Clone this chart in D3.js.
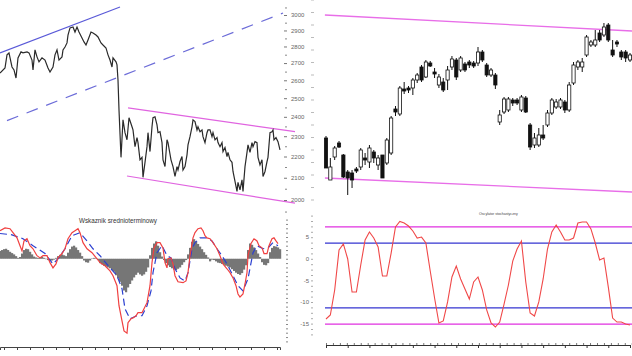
<!DOCTYPE html>
<html><head><meta charset="utf-8">
<script src="https://cdn.jsdelivr.net/npm/d3@7"></script>
<style>body{margin:0;background:#fff;overflow:hidden}svg{display:block}text{font-family:"Liberation Sans",Arial,sans-serif}</style>
</head><body>
<svg id="c" width="632" height="356"></svg>
<script>
// ---------- LEFT PANEL: daily closes (day index, close) ----------
const priceDay = [0,5,7,9,12,14,16,18,21,23,27,29,32,33,35,37,39,42,45,48,50,53,55,57,59,62,63,65,67,68,70,73,75,77,79,82,84,86,88,91,93,96,98,101,103,106,108,110,112,113,116,117,118,119,121,123,125,127,129,132,133,135,137,138,140,142,143,145,147,148,150,152,153,155,157,158,160,162,163,165,167,168,171,173,175,177,178,180,182,183,185,187,188,190,192,193,195,197,198,200,202,203,205,207,208,210,212,213,215,217,218,220,222,223,225,227,228,230,232,233,235,237,238,240,242,243,245,247,248,250,252,253,255,257,258,260,262,263,265,267,268,270,272,273,274,276,278,280];
const priceClose = [2642,2671,2749,2761,2677,2660,2613,2731,2767,2761,2767,2761,2718,2660,2779,2737,2707,2731,2718,2671,2648,2677,2749,2779,2718,2737,2779,2797,2822,2871,2916,2922,2890,2922,2890,2853,2828,2809,2840,2890,2884,2871,2859,2822,2809,2791,2749,2718,2677,2731,2707,2689,2602,2436,2196,2384,2318,2282,2395,2348,2332,2248,2293,2268,2184,2196,2102,2172,2248,2318,2224,2348,2395,2400,2358,2318,2323,2268,2184,2152,2282,2268,2184,2152,2106,2152,2136,2176,2200,2136,2152,2208,2257,2298,2348,2384,2375,2332,2348,2323,2332,2298,2268,2318,2332,2332,2298,2318,2282,2293,2268,2248,2268,2224,2244,2200,2220,2184,2172,2129,2083,2038,2079,2045,2090,2038,2152,2220,2257,2220,2268,2248,2273,2268,2196,2160,2184,2106,2129,2176,2196,2318,2323,2332,2282,2293,2273,2232];
const priceTicks = [2000,2100,2200,2300,2400,2500,2600,2700,2800,2900,3000];
const trendSolid = [[0,2761],[120,3053]];
const trendDashed = [[7,2380],[283,3013]];
const channelUpperL = [[128,2447],[295,2323]];
const channelLowerL = [[127,2108],[295,1986]];

// MACD ("Wskaznik srednioterminowy")
const macdDay = [0,5,10,13,17,20,22,24,27,30,33,37,40,43,47,50,53,56,58,62,65,68,72,75,78,80,83,87,92,97,100,105,110,113,117,119,122,124,127,128,131,133,136,138,142,144,147,150,152,154,157,160,163,165,167,168,171,173,175,178,183,186,188,190,193,195,198,201,203,205,207,210,213,217,220,223,227,230,233,236,238,240,243,245,247,248,251,254,257,259,262,264,267,269,272,274,276,278];
const macdLine = [6.45,7.1,6.9,6.0,4.8,3.0,1.8,4.1,4.6,3.0,2.3,0.7,0.2,0.7,0.7,-0.9,-2.1,-1.2,0.2,1.2,2.3,4.6,6.0,6.45,6.9,6.0,3.7,2.3,1.4,0,-0.9,-1.6,-2.8,-3.9,-6.2,-10.8,-14.3,-16.6,-17.1,-14.7,-13.8,-13.6,-13.1,-12.4,-12.4,-11.5,-10.1,-6.2,-0.9,2.5,3.7,3.7,2.5,-0.9,-2.1,0,0.2,-1.2,-3.9,-5.3,-5.5,-5.1,-3.2,0.7,4.8,6.0,6.9,7.1,6.45,5.3,4.8,4.6,3.7,2.3,0.7,-1.2,-2.3,-3.2,-4.4,-6.2,-8.1,-8.8,-8.1,-5.8,-3.2,0.7,3.5,4.6,4.1,3.0,2.5,1.2,1.2,3.0,4.6,4.8,4.1,3.5];
const signalDay = [0,12,23,33,45,53,58,65,72,80,87,93,100,110,117,122,125,130,137,142,147,151,153,157,162,167,171,175,180,185,188,192,195,200,207,212,217,222,228,233,238,243,248,253,257,263,268,273,278];
const signalLine = [5.8,5.5,4.6,3.0,1.2,-1.2,0,2.3,5.3,6.0,4.1,2.3,0.7,-2.1,-3.9,-6.9,-11.5,-13.8,-13.1,-13.1,-10.8,-7.4,-3.2,1.4,3.0,0.7,0.2,-2.3,-4.4,-5.1,-3.2,2.3,3.7,4.8,4.8,4.1,2.3,0.7,-1.6,-3.9,-6.2,-7.4,-4.6,1.4,3.0,2.3,2.5,3.7,3.0];
const histDay = d3.range(0, 281, 2);
const histValue = [1.8,2.0,2.2,2.3,2.0,1.6,1.3,1.0,0.6,0.2,0.4,1.2,2.0,2.3,2.2,1.6,1.0,0.5,0.3,0.2,0.3,0.4,0.2,-0.1,-0.3,-0.5,-0.4,-0.2,0.2,0.6,0.9,1.0,0.8,0.6,1.4,2.2,2.8,3.0,2.6,2.0,1.4,0.6,-0.4,-0.8,-0.9,-0.4,0.1,0.2,0.1,-0.3,-1.0,-1.3,-1.6,-1.8,-2.0,-2.2,-2.6,-3.0,-3.8,-4.5,-5.3,-6.2,-7.3,-7.7,-6.6,-5.8,-5.0,-4.3,-3.7,-3.2,-3.6,-3.9,-3.6,-3.0,-2.0,0.8,2.5,3.5,4.0,3.0,1.5,0.5,-0.3,-1.0,-1.5,-1.9,-2.2,-2.5,-2.6,-2.3,-2.0,-1.4,-0.8,-0.3,1.0,2.5,3.9,4.5,4.0,3.4,2.8,2.2,1.5,0.9,0.3,-0.6,-0.2,-0.3,-0.6,-0.9,-1.0,-1.2,-1.4,-1.6,-1.8,-2.0,-2.4,-2.8,-3.2,-3.5,-3.7,-3.3,-2.5,-1.5,2.0,3.5,3.2,2.6,2.0,1.2,0.4,-0.8,-1.4,-1.5,-1.0,1.5,2.5,2.9,2.8,2.6,2.2];
const macdTicks = [5,0,-5,-10,-15];
const macdTitle = "Wskaznik srednioterminowy";

// ---------- RIGHT PANEL: candles ----------
const cOpen  = [2124,2040,2086,2114,2090,2056,2054,2062,2066,2084,2076,2096,2070,2090,2074,2094,2182,2172,2222,2224,2224,2240,2266,2246,2274,2256,2230,2236,2240,2266,2280,2260,2272,2276,2274,2274,2296,2270,2250,2250,2156,2176,2180,2200,2200,2180,2204,2150,2110,2110,2130,2150,2174,2186,2186,2196,2180,2234,2266,2266,2290,2310,2310,2334,2330,2350,2300,2316,2296,2296,2280];
const cHigh  = [2128,2084,2108,2118,2092,2060,2060,2066,2104,2094,2110,2100,2090,2090,2124,2168,2188,2228,2236,2228,2244,2254,2270,2280,2278,2264,2252,2244,2268,2288,2284,2288,2276,2280,2278,2306,2300,2274,2264,2254,2180,2206,2206,2204,2204,2210,2208,2154,2134,2144,2150,2180,2204,2202,2204,2200,2236,2276,2280,2284,2330,2320,2340,2340,2354,2354,2320,2320,2300,2300,2294];
const cLow   = [2064,2040,2080,2104,2044,2010,2024,2054,2060,2070,2064,2074,2060,2044,2070,2090,2168,2168,2212,2214,2210,2234,2236,2244,2266,2244,2224,2216,2220,2260,2240,2256,2256,2264,2264,2268,2276,2246,2246,2222,2150,2172,2176,2188,2190,2176,2174,2100,2104,2106,2120,2146,2170,2182,2182,2174,2176,2230,2260,2256,2286,2306,2306,2316,2326,2316,2286,2306,2280,2276,2276];
const cClose = [2064,2066,2104,2106,2046,2044,2040,2058,2100,2080,2104,2084,2084,2044,2120,2164,2176,2224,2218,2220,2240,2250,2240,2276,2268,2252,2246,2220,2260,2282,2246,2284,2260,2270,2268,2296,2280,2250,2260,2230,2170,2202,2202,2194,2194,2206,2176,2106,2124,2130,2124,2174,2200,2196,2200,2180,2230,2270,2276,2276,2326,2316,2320,2320,2346,2320,2290,2312,2286,2284,2290];
const channelUpperR = [[-0.25,2370],[70.5,2338]];
const channelLowerR = [[-0.25,2044],[70.5,2016]];

// oscillator (one value per candle)
const oscValue = [9.7,13.4,36.6,73.6,79.2,65.3,34.7,34.7,59.7,82.9,90.3,84.7,76.4,49.5,49.5,70.8,94.9,100,98.6,95.8,91.2,84.7,85.6,80.1,54.2,29.2,6.0,7.9,25.5,48.6,58.8,46.8,37.5,28.2,44.0,48.6,36.6,18.1,6.0,2.3,6.9,23.6,41.2,63.4,74.5,81.9,44.0,15.3,12.5,25.5,46.8,74.5,90.3,96.8,90.3,82.9,82.9,84.7,98.6,99.5,99.5,93.1,80.1,64.4,66.2,39.4,10.6,6.9,6.9,5.1,4.2];
const oscOuter = [95,5];
const oscInner = [80,20];
const oscTitle = "Oscylator stochastyczny";

// ---------- drawing ----------
const svg = d3.select("#c");
const xL = d3.scaleLinear().domain([0,280]).range([0,280]);
const yP = d3.scaleLog().domain([2000,3000]).range([200,15]);
const yM = d3.scaleLinear().domain([-15,5]).range([324,237]);
const xR = d3.scaleLinear().domain([0,70]).range([326,630]);
const yC = d3.scaleLinear().domain([2000,2400]).range([200,0]);
const yO = d3.scaleLinear().domain([0,100]).range([329.5,221.5]);

const seg = (g, pts, xs, ys, color, w, dash) => g.append("line")
  .attr("x1", xs(pts[0][0])).attr("y1", ys(pts[0][1]))
  .attr("x2", xs(pts[1][0])).attr("y2", ys(pts[1][1]))
  .attr("stroke", color).attr("stroke-width", w).attr("stroke-dasharray", dash || null);

// left price
const gL = svg.append("g");
seg(gL, trendSolid, xL, yP, "#5a5ad8", 1.2);
seg(gL, trendDashed, xL, yP, "#6c6cd8", 1.2, "12,9");
seg(gL, channelUpperL, xL, yP, "#e064e0", 1.2);
seg(gL, channelLowerL, xL, yP, "#e064e0", 1.2);
gL.append("path").datum(priceDay.map((d,i)=>[d,priceClose[i]]))
  .attr("fill","none").attr("stroke","#2a2a2a").attr("stroke-width",1.2)
  .attr("d", d3.line().x(d=>xL(d[0])).y(d=>yP(d[1])));

// price axis
const ax1 = svg.append("g").attr("transform","translate(284,0)")
  .call(d3.axisRight(yP).tickValues(priceTicks).tickSize(3).tickPadding(4).tickFormat(d3.format("d")));
ax1.select(".domain").remove();
ax1.selectAll("line").attr("stroke","#777");
ax1.selectAll("text").attr("font-size",6).attr("fill","#666");
const ax1m = svg.append("g").attr("transform","translate(285,0)")
  .call(d3.axisRight(yP).tickValues(d3.range(1950,3100,100)).tickSize(2).tickFormat(""));
ax1m.select(".domain").remove();
ax1m.selectAll("line").attr("stroke","#888");

// MACD
const gM = svg.append("g");
gM.selectAll("rect").data(histDay).join("rect")
  .attr("x", d=>xL(d)-1).attr("width", 2.2)
  .attr("y", (d,i)=>Math.min(yM(0), yM(histValue[i])))
  .attr("height", (d,i)=>Math.abs(yM(histValue[i])-yM(0)))
  .attr("fill","#767676");
gM.append("path").datum(signalDay.map((d,i)=>[d,signalLine[i]]))
  .attr("fill","none").attr("stroke","#2b3fd0").attr("stroke-width",1.2).attr("stroke-dasharray","7,4")
  .attr("d", d3.line().x(d=>xL(d[0])).y(d=>yM(d[1])));
gM.append("path").datum(macdDay.map((d,i)=>[d,macdLine[i]]))
  .attr("fill","none").attr("stroke","#f04040").attr("stroke-width",1.2)
  .attr("d", d3.line().x(d=>xL(d[0])).y(d=>yM(d[1])));
svg.append("text").attr("x",118).attr("y",223).attr("text-anchor","middle")
  .attr("font-size",6.3).attr("fill","#333").text(macdTitle);

const ax2 = svg.append("g").attr("transform","translate(286,0)")
  .call(d3.axisRight(yM).tickValues(d3.range(-19,10)).tickSize(2).tickFormat(""));
ax2.select(".domain").remove();
ax2.selectAll("line").attr("stroke","#888");
svg.append("g").selectAll("text").data(macdTicks).join("text")
  .attr("x",309).attr("y",d=>yM(d)+2).attr("text-anchor","end")
  .attr("font-size",6).attr("fill","#666").text(d=>d);

// left bottom time axis
const ax3 = svg.append("g").attr("transform","translate(0,347)")
  .call(d3.axisBottom(xL).tickValues(d3.range(4,281,13)).tickSize(3).tickFormat(""));
ax3.select(".domain").attr("stroke","#444");
ax3.selectAll("line").attr("stroke","#444");

// right panel: faint left axis ticks
svg.append("g").selectAll("line").data(d3.range(2000,2401,25)).join("line")
  .attr("x1",311).attr("x2",314).attr("y1",d=>yC(d)).attr("y2",d=>yC(d))
  .attr("stroke","#bbb");
svg.append("g").selectAll("line").data(d3.range(-5,106,5)).join("line")
  .attr("x1",311).attr("x2",313).attr("y1",d=>yO(d)).attr("y2",d=>yO(d))
  .attr("stroke","#aaa");

// channel lines
const gR = svg.append("g");
seg(gR, channelUpperR, xR, yC, "#e86ee8", 1.3);
seg(gR, channelLowerR, xR, yC, "#e86ee8", 1.3);

// candles
const idx = d3.range(cOpen.length);
const bw = 3.2;
gR.selectAll(".wick").data(idx).join("line").attr("class","wick")
  .attr("x1",i=>xR(i)).attr("x2",i=>xR(i))
  .attr("y1",i=>yC(cHigh[i])).attr("y2",i=>yC(cLow[i]))
  .attr("stroke","#111").attr("stroke-width",1);
gR.selectAll(".body").data(idx).join("rect").attr("class","body")
  .attr("x",i=>xR(i)-bw/2).attr("width",bw)
  .attr("y",i=>yC(Math.max(cOpen[i],cClose[i])))
  .attr("height",i=>Math.max(1,Math.abs(yC(cOpen[i])-yC(cClose[i]))))
  .attr("fill",i=>cClose[i]>=cOpen[i]?"#fff":"#111")
  .attr("stroke","#111").attr("stroke-width",0.8);

// oscillator
const gO = svg.append("g");
oscOuter.forEach(v=>gO.append("line").attr("x1",325).attr("x2",632)
  .attr("y1",yO(v)).attr("y2",yO(v)).attr("stroke","#e030e0").attr("stroke-width",1.3));
oscInner.forEach(v=>gO.append("line").attr("x1",325).attr("x2",632)
  .attr("y1",yO(v)).attr("y2",yO(v)).attr("stroke","#3535d0").attr("stroke-width",1.3));
gO.append("path").datum(oscValue)
  .attr("fill","none").attr("stroke","#f04848").attr("stroke-width",1.1)
  .attr("d", d3.line().x((d,i)=>xR(i)).y(d=>yO(d)));
svg.append("text").attr("x",479).attr("y",215).attr("font-size",3.6).attr("fill","#444").text(oscTitle);

// right bottom time axis
const ax4 = svg.append("g").attr("transform","translate(0,345)")
  .call(d3.axisBottom(xR).tickValues(d3.range(0,71,5)).tickSize(3).tickFormat(""));
ax4.select(".domain").attr("stroke","#333");
ax4.selectAll("line").attr("stroke","#333");
const ax4m = svg.append("g").attr("transform","translate(0,345)")
  .call(d3.axisTop(xR).tickValues(d3.range(0,71,1.6)).tickSize(2).tickFormat(""));
ax4m.select(".domain").remove();
ax4m.selectAll("line").attr("stroke","#777");
</script>
</body></html>
